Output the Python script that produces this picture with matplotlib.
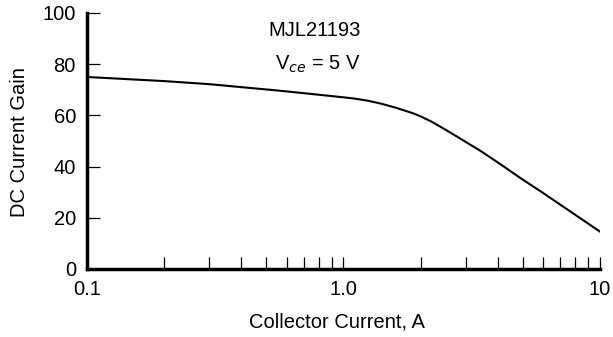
import matplotlib
matplotlib.use("Agg")
import matplotlib.pyplot as plt
from matplotlib.ticker import FixedLocator, FixedFormatter, NullFormatter

# collector current (A) and DC current gain
current = [0.1, 0.2, 0.3, 0.57, 0.89, 1.1, 1.25, 1.4, 1.6, 1.87, 2.0, 2.2, 2.5, 2.7, 3.0, 3.4, 4.0, 4.9, 6.0, 7.5, 10.0]
gain = [75, 73.4, 72.2, 69.6, 67.6, 66.6, 65.7, 64.6, 63.0, 60.8, 59.6, 57.6, 54.4, 52.4, 49.6, 46.3, 41.6, 35.5, 29.7, 23.1, 14.6]

x_ticks = [0.1, 1.0, 10]
x_tick_labels = ['0.1', '1.0', '10']
y_ticks = [0, 20, 40, 60, 80, 100]

plt.rcParams['font.family'] = ['Liberation Sans', 'DejaVu Sans']
fs = 14.5

fig = plt.figure(figsize=(6.13, 3.37), dpi=100)
ax = fig.add_axes([87 / 613, 68 / 337, 513 / 613, 256 / 337])

ax.plot(current, gain, color='black', linewidth=1.5)

ax.set_xscale('log')
ax.set_xlim(0.1, 10)
ax.set_ylim(0, 100)

ax.xaxis.set_major_locator(FixedLocator(x_ticks))
ax.xaxis.set_major_formatter(FixedFormatter(x_tick_labels))
minors = [m * d for d in (0.1, 1.0) for m in range(2, 10)]
ax.xaxis.set_minor_locator(FixedLocator(minors))
ax.xaxis.set_minor_formatter(NullFormatter())
ax.set_yticks(y_ticks)

for side in ('top', 'right'):
    ax.spines[side].set_visible(False)
for side in ('left', 'bottom'):
    ax.spines[side].set_linewidth(2.5)

ax.tick_params(axis='both', which='both', direction='in', length=9, width=0.9,
               labelsize=fs, pad=8)

ax.set_xlabel('Collector Current, A', fontsize=fs)
ax.set_ylabel('DC Current Gain', fontsize=fs)
ax.xaxis.set_label_coords(250 / 513, -43 / 256)
ax.yaxis.set_label_coords(-58 / 513, 127 / 256)

ax.text(0.443, 0.93, 'MJL21193', transform=ax.transAxes, ha='center', va='center', fontsize=fs)
ax.text(0.45, 0.80, r'V$_{\mathit{ce}}$ = 5 V', transform=ax.transAxes, ha='center', va='center', fontsize=fs)

fig.savefig('out.png', dpi=100)
